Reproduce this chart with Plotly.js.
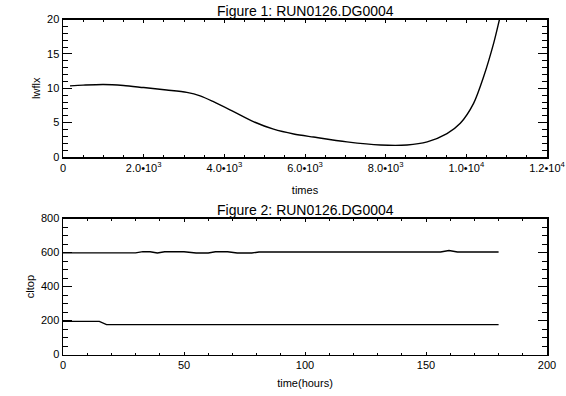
<!DOCTYPE html>
<html>
<head>
<meta charset="utf-8">
<script src="https://cdn.plot.ly/plotly-3.0.1.min.js"></script>
<style>html,body{margin:0;padding:0;background:#fff;}#plot{width:566px;height:396px;}</style>
</head>
<body>
<div id="plot"></div>
<script>
// Figure 1 data: lwflx vs times
const times = [174, 500, 1000, 1500, 2000, 2570, 3070, 3400, 3730, 4230, 4720, 5220, 5720, 6210, 7040, 7870, 8530, 9030, 9520, 9850, 10180, 10430, 10680, 10830, 10950];
const lwflx = [10.34, 10.45, 10.55, 10.4, 10.1, 9.75, 9.4, 8.9, 8.05, 6.6, 5.15, 4.05, 3.35, 2.9, 2.2, 1.75, 1.75, 2.2, 3.4, 4.9, 7.8, 11.7, 16.6, 20.2, 23];

// Figure 2 data: cltop vs time(hours), two levels
const hoursUpper = [0, 30, 33, 36, 39, 42, 50, 55, 60, 63, 68, 72, 78, 81, 156, 159.5, 163, 180];
const cltopUpper = [598, 598, 605, 604, 597, 604, 604, 597, 597, 604, 604, 597, 597, 603, 603, 612, 603, 603];
const hoursLower = [0, 15, 18, 180];
const cltopLower = [195, 195, 176, 176];

// Tick labels
const x1TickVals = [0, 2000, 4000, 6000, 8000, 10000, 12000];
const x1TickText = ['0', '2.0•10<sup>3</sup>', '4.0•10<sup>3</sup>', '6.0•10<sup>3</sup>', '8.0•10<sup>3</sup>', '1.0•10<sup>4</sup>', '1.2•10<sup>4</sup>'];

const FONT = 'Liberation Sans, Arial, Helvetica, sans-serif';
const H = 396;
const dom = (top, bot) => [1 - bot / H, 1 - top / H];

const lineStyle = {color: '#000', width: 1.4};

const traces = [
  {x: times, y: lwflx, xaxis: 'x', yaxis: 'y', mode: 'lines', line: Object.assign({shape: 'spline', smoothing: 0.8}, lineStyle), hoverinfo: 'skip'},
  {x: hoursUpper, y: cltopUpper, xaxis: 'x2', yaxis: 'y2', mode: 'lines', line: lineStyle, hoverinfo: 'skip'},
  {x: hoursLower, y: cltopLower, xaxis: 'x2', yaxis: 'y2', mode: 'lines', line: lineStyle, hoverinfo: 'skip'}
];

const axBase = {
  showline: true, linecolor: '#000', linewidth: 1.5, mirror: 'allticks',
  ticks: 'inside', tickcolor: '#000', tickwidth: 1,
  showgrid: false, zeroline: false,
  tickfont: {family: FONT, size: 11, color: '#000'},
  fixedrange: true
};

const layout = {
  width: 566, height: 396,
  margin: {l: 63, r: 18.5, t: 0, b: 0, pad: 0},
  paper_bgcolor: '#fff', plot_bgcolor: '#fff',
  showlegend: false,
  font: {family: FONT, color: '#000'},
  xaxis: Object.assign({}, axBase, {
    domain: [0, 1], anchor: 'y', range: [0, 12000],
    tickmode: 'array', tickvals: x1TickVals, ticktext: x1TickText, ticklen: 3,
    minor: {dtick: 500, ticklen: 2, ticks: 'inside', tickcolor: '#000', tickwidth: 1},
    title: {text: 'times', font: {family: FONT, size: 11, color: '#000'}, standoff: 13}
  }),
  yaxis: Object.assign({}, axBase, {
    domain: dom(19.5, 157), anchor: 'x', range: [0, 20],
    dtick: 5, tick0: 0, ticklen: 9,
    minor: {dtick: 1, ticklen: 5, ticks: 'inside', tickcolor: '#000', tickwidth: 1},
    title: {text: 'lwflx', font: {family: FONT, size: 11, color: '#000'}, standoff: 4}
  }),
  xaxis2: Object.assign({}, axBase, {
    domain: [0, 1], anchor: 'y2', range: [0, 200],
    dtick: 50, tick0: 0, ticklen: 3,
    minor: {dtick: 10, ticklen: 2, ticks: 'inside', tickcolor: '#000', tickwidth: 1},
    title: {text: 'time(hours)', font: {family: FONT, size: 11, color: '#000'}, standoff: 9}
  }),
  yaxis2: Object.assign({}, axBase, {
    domain: dom(218.5, 354.5), anchor: 'x2', range: [0, 800],
    dtick: 200, tick0: 0, ticklen: 9,
    minor: {dtick: 50, ticklen: 5, ticks: 'inside', tickcolor: '#000', tickwidth: 1},
    title: {text: 'cltop', font: {family: FONT, size: 11, color: '#000'}, standoff: 4}
  }),
  annotations: [
    {text: 'Figure 1: RUN0126.DG0004', xref: 'paper', yref: 'paper', x: 0.5, y: 1 - 1 / H, xanchor: 'center', yanchor: 'top', showarrow: false, font: {family: FONT, size: 14, color: '#000'}},
    {text: 'Figure 2: RUN0126.DG0004', xref: 'paper', yref: 'paper', x: 0.5, y: 1 - 200 / H, xanchor: 'center', yanchor: 'top', showarrow: false, font: {family: FONT, size: 14, color: '#000'}}
  ]
};

Plotly.newPlot('plot', traces, layout, {displayModeBar: false, staticPlot: true});
</script>
</body>
</html>
